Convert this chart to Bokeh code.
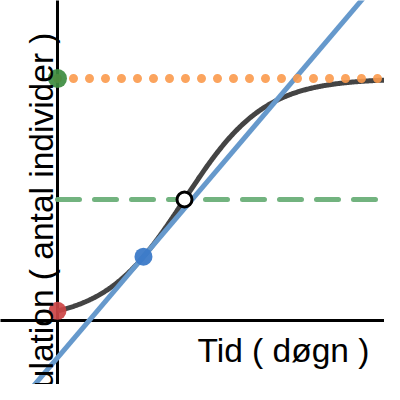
import numpy as np
from bokeh.plotting import figure
from bokeh.models import Range1d, Label
from bokeh.embed import file_html
from bokeh.resources import INLINE

# Logistic model
K = 1000.0          # carrying capacity (orange dotted asymptote)
P0 = 40.0           # starting population (red point)
t_infl = 10.0       # inflection time (hollow point, P = K/2)
t_tan = 6.77        # tangent point (blue point)
x_label = "Tid ( døgn )"
y_label = "Population ( antal individer )"

a = K / P0 - 1.0
r = np.log(a) / t_infl

def P(t):
    return K / (1.0 + a * np.exp(-r * t))

x_min, x_max = -4.488, 25.748
y_min, y_max = -264.5, 1322.3

p = figure(width=384, height=384, output_backend="svg", toolbar_location=None,
           x_range=Range1d(x_min, x_max), y_range=Range1d(y_min, y_max),
           x_axis_location=None, y_axis_location=None, min_border=0)
p.grid.visible = False
p.outline_line_color = None
p.background_fill_color = "white"

# axes
p.line([0, 0], [y_min - 100, y_max + 100], line_color="black", line_width=3)
p.line([x_min - 1, x_max + 1], [0, 0], line_color="black", line_width=3)

# half-capacity dashed line
p.line([0, x_max + 1], [K / 2, K / 2], line_color="#6aaf78", line_width=5,
       line_dash="22 15", line_cap="round", line_alpha=0.95)

# logistic curve
t = np.linspace(0, x_max + 1, 400)
p.line(t, P(t), line_color="#444444", line_width=5)

# tangent line
Pt = P(t_tan)
slope = r * Pt * (1 - Pt / K)
tx = np.array([x_min - 1, x_max + 1])
p.line(tx, Pt + slope * (tx - t_tan), line_color="#6699cc", line_width=5)

# carrying capacity dotted line
p.line([0, x_max + 1], [K, K], line_color="#fb9a4c", line_width=9, line_alpha=0.9,
       line_dash="0 16", line_cap="round")

# points
p.scatter([0], [P0], size=18, fill_color="#cc4444", line_color=None, fill_alpha=0.92)
p.scatter([0], [K], size=19, fill_color="#3d8c40", line_color=None, fill_alpha=0.92)
p.scatter([t_tan], [Pt], size=18, fill_color="#3c7ac8", line_color=None, fill_alpha=0.95)
p.scatter([t_infl], [K / 2], size=15, fill_color="white", line_color="black", line_width=3)

# labels
p.add_layout(Label(x=197, y=34, x_units="screen", y_units="screen", text=x_label,
                   text_font="Liberation Sans", text_font_size="33.5px",
                   text_align="left", text_baseline="alphabetic", text_color="black"))
p.add_layout(Label(x=41, y=352, x_units="screen", y_units="screen", text=y_label,
                   angle=np.pi / 2, text_font="Liberation Sans", text_font_size="33.5px",
                   text_align="right", text_baseline="alphabetic", text_color="black"))

open("out.html", "w").write(file_html(p, INLINE))
